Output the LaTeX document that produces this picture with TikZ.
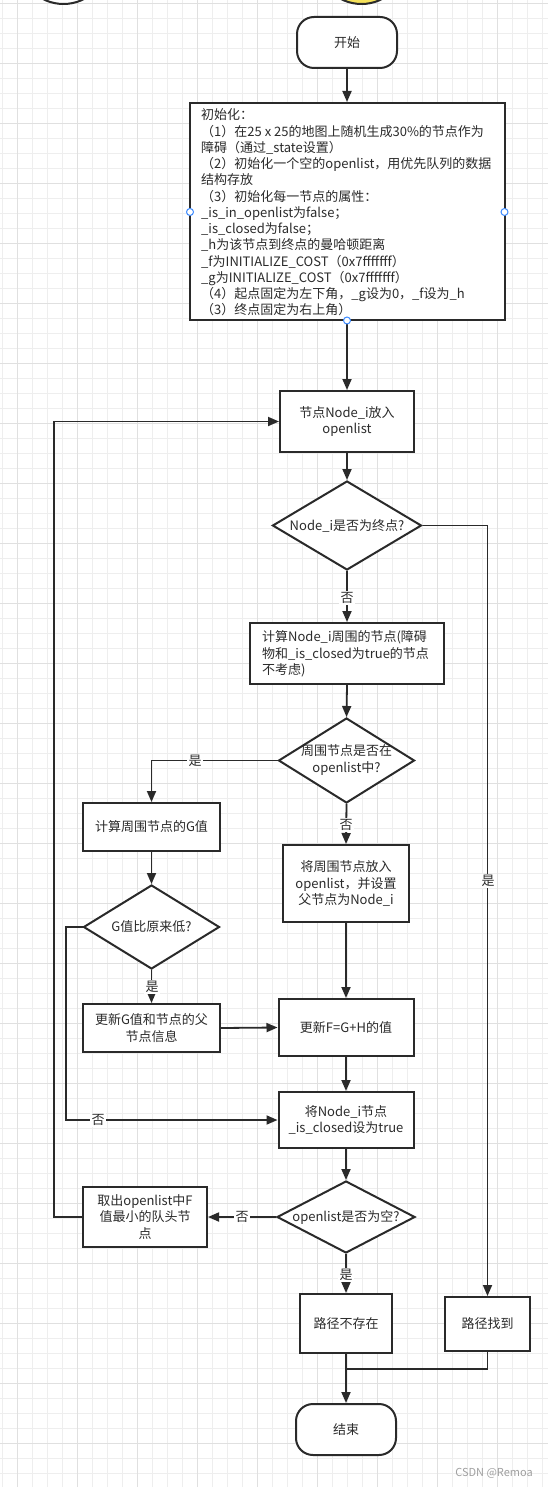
\documentclass[tikz,border=0pt]{standalone}
\usepackage{fontspec}
\setmainfont{Noto Sans CJK SC}
\usetikzlibrary{arrows.meta,shapes.geometric}
\definecolor{ln}{HTML}{2A2A2A}
\definecolor{txtc}{HTML}{2B2B2B}
\definecolor{gridminor}{HTML}{EEEEEE}
\definecolor{gridmajor}{HTML}{E0E0E0}
\definecolor{handleblue}{HTML}{3D8BFF}
\definecolor{sunyellow}{HTML}{F5E15A}
\definecolor{wmgray}{HTML}{A0A0A0}
\begin{document}
\begin{tikzpicture}[x=1pt,y=-1pt,
  txt/.style={font=\fontsize{13}{16.25}\selectfont, text=txtc, inner sep=0pt},
  proc/.style={draw=ln, line width=2pt, fill=white, inner sep=2pt, align=center,
               font=\fontsize{13}{16.25}\selectfont, text=txtc},
  term/.style={proc, rounded corners=17pt},
  dec/.style={diamond, draw=ln, line width=2pt, fill=white, inner sep=0pt},
  conn/.style={draw=ln, line width=1.8pt, -{Triangle[length=11pt,width=9pt]}},
  plainln/.style={draw=ln, line width=1.8pt},
  yn/.style={font=\fontsize{13}{13}\selectfont, text=txtc, fill=white, inner sep=1.5pt},
  handle/.style={circle, draw=handleblue, line width=1pt, fill=white, minimum size=7pt, inner sep=0pt},
  gmin/.style={draw=gridminor, line width=0.9pt},
  gmaj/.style={draw=gridmajor, line width=0.9pt}
]
\useasboundingbox (0,0) rectangle (548,1487);
\fill[white] (0,0) rectangle (548,1487);
% grid
\foreach \i in {0,...,36} {\draw[gmin] ({2.7+15*\i},0) -- ({2.7+15*\i},1487);}
\foreach \i in {0,...,99} {\draw[gmin] (0,{3.3+15*\i}) -- (548,{3.3+15*\i});}
\foreach \i in {0,...,8} {\draw[gmaj] ({17.3+60*\i},0) -- ({17.3+60*\i},1487);}
\foreach \i in {0,...,24} {\draw[gmaj] (0,{3.3+60*\i}) -- (548,{3.3+60*\i});}
% partial shapes at the top edge
\draw[draw=ln, line width=2pt, fill=white] (63.5,-40.8) circle (44.8);
\draw[draw=ln, line width=2pt, fill=sunyellow] (361.5,-40.8) circle (44.8);

% nodes
\node[term, minimum width=100, minimum height=51] (start) at (347,42.5) {开始};
\node[proc, minimum width=315, minimum height=217] (init) at (347,211.5) {};
\node[txt, align=left, anchor=west] (inittxt) at (201,212.5) {初始化：\\
（1）在25 x 25的地图上随机生成30\%的节点作为\\
障碍（通过\_state设置）\\
（2）初始化一个空的openlist，用优先队列的数据\\
结构存放\\
（3）初始化每一节点的属性：\\
\_is\_in\_openlist为false；\\
\_is\_closed为false；\\
\_h为该节点到终点的曼哈顿距离\\
\_f为INITIALIZE\_COST（0x7fffffff）\\
\_g为INITIALIZE\_COST（0x7fffffff）\\
（4）起点固定为左下角，\_g设为0，\_f设为\_h\\
（3）终点固定为右上角）};
\node[proc, minimum width=134, minimum height=61] (put) at (347,421.5) {节点Node\_i放入\\openlist};
\node[dec, minimum width=149, minimum height=89] (isend) at (347,525.5) {};
\node[txt] (isendt) at (347,526) {Node\_i是否为终点?};
\node[proc, minimum width=194, minimum height=61] (calc) at (347,653.5) {};
\node[txt, align=left, anchor=west] (calct) at (262,654) {计算Node\_i周围的节点(障碍\\物和\_is\_closed为true的节点\\不考虑)};
\node[dec, minimum width=136, minimum height=85] (inol) at (346.5,760.5) {};
\node[txt, align=center] (inolt) at (346.5,760) {周围节点是否在\\openlist中?};
\node[proc, minimum width=137, minimum height=48] (calcG) at (151.5,827) {计算周围节点的G值};
\node[proc, minimum width=126, minimum height=77] (putol) at (346,883.5) {将周围节点放入\\openlist，并设置\\父节点为Node\_i};
\node[dec, minimum width=136, minimum height=84] (lowerG) at (151.5,927) {};
\node[txt] (lowerGt) at (151.5,927) {G值比原来低?};
\node[proc, minimum width=137, minimum height=48] (upd) at (151.5,1028) {更新G值和节点的父\\节点信息};
\node[proc, minimum width=135, minimum height=57] (updF) at (346,1027.5) {更新F=G+H的值};
\node[proc, minimum width=135, minimum height=56] (closed) at (346,1120) {将Node\_i节点\\\_is\_closed设为true};
\node[dec, minimum width=138, minimum height=72] (empty) at (346,1217) {};
\node[txt] (emptyt) at (346,1217) {openlist是否为空?};
\node[proc, minimum width=124, minimum height=60] (pop) at (145,1217) {取出openlist中F\\值最小的队头节\\点};
\node[proc, minimum width=92, minimum height=59] (nopath) at (346,1323.5) {路径不存在};
\node[proc, minimum width=85, minimum height=54] (found) at (487.5,1324) {路径找到};
\node[term, minimum width=100, minimum height=51] (end) at (346,1429.5) {结束};

% helper coordinates
\coordinate (lp) at (54,1217);
\coordinate (gl) at (66,927);
\coordinate (jn) at (346,1369);

% connectors
\draw[conn] (start) -- (init);
\draw[conn] (init) -- (put);
\draw[conn] (put) -- (isend);
\draw[conn] (isend.east) -| (found.north);
\draw[conn] (isend.south) -- (calc.north);
\draw[conn] (calc.south) -- (inol.north);
\draw[conn] (inol.west) -| (calcG.north);
\draw[conn] (inol.south) -- (putol.north);
\draw[conn] (calcG.south) -- (lowerG.north);
\draw[conn] (lowerG.west) -- (gl) |- (closed.west);
\draw[conn] (lowerG.south) -- (upd.north);
\draw[conn] (upd.east) -- (updF.west);
\draw[conn] (putol.south) -- (updF.north);
\draw[conn] (updF.south) -- (closed.north);
\draw[conn] (closed.south) -- (empty.north);
\draw[conn] (empty.west) -- (pop.east);
\draw[conn] (pop.west) -- (lp) |- (put.west);
\draw[conn] (empty.south) -- (nopath.north);
\draw[plainln] (found.south) |- (jn);
\draw[conn] (nopath.south) -- (end.north);

% branch labels
\node[yn] (l1) at (347,598) {否};
\node[yn] (l2) at (488,881) {是};
\node[yn] (l3) at (195,761) {是};
\node[yn] (l4) at (346,825) {否};
\node[yn] (l5) at (152,987) {是};
\node[yn] (l6) at (98,1120) {否};
\node[yn] (l7) at (242,1217) {否};
\node[yn] (l8) at (346,1275) {是};

% selection handles
\node[handle] (h1) at (190,212) {};
\node[handle] (h2) at (504.5,212) {};
\node[handle] (h3) at (347,320.5) {};

% watermark
\node[font=\fontsize{11}{11}\selectfont, text=wmgray, anchor=east, inner sep=0pt] (wm) at (533,1473) {CSDN @Remoa};
\end{tikzpicture}
\end{document}
